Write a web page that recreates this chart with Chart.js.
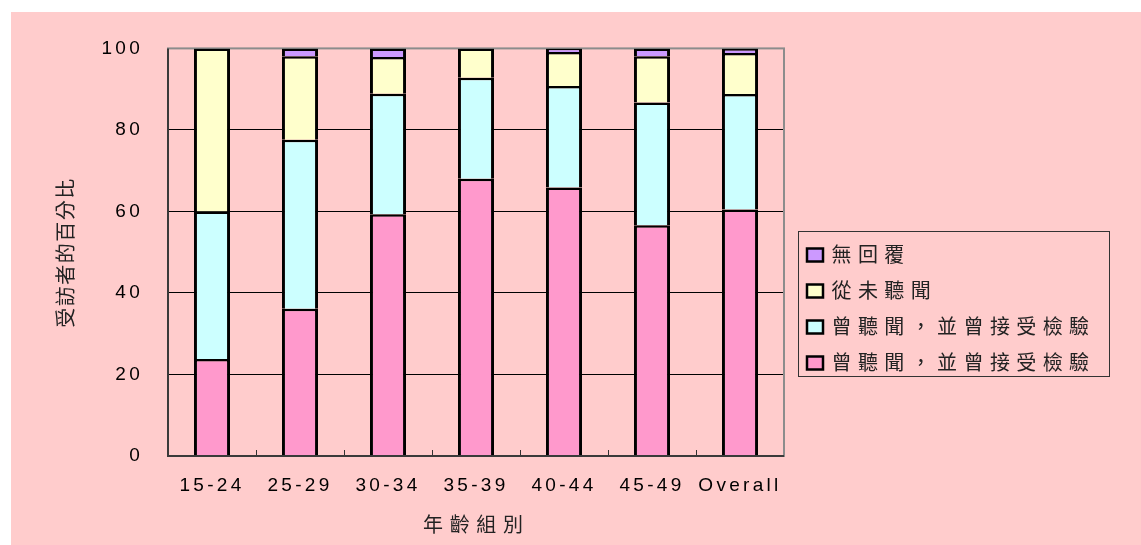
<!DOCTYPE html>
<html>
<head>
<meta charset="utf-8">
<script src="https://cdn.jsdelivr.net/npm/chart.js@4"></script>
<style>
  html, body { margin: 0; background: #fff; }
  #wrap { position: absolute; left: 11px; top: 12px; width: 1130px; height: 533px; background: #FFCCCC; }
  canvas { display: block; }
</style>
</head>
<body>
<div id="wrap"><canvas id="ageChart" width="1130" height="533"></canvas></div>
<script>
// age groups and stacked percentages
const ageGroups = ['15-24', '25-29', '30-34', '35-39', '40-44', '45-49', 'Overall'];
const heardTested = [23.8, 36.1, 59.3, 68.0, 65.9, 56.6, 60.5];
const heardNotTested = [36.2, 41.5, 29.6, 24.8, 24.9, 30.1, 28.3];
const neverHeard = [40.0, 20.5, 9.0, 7.2, 8.3, 11.4, 10.1];
const noResponse = [0, 1.9, 2.1, 0, 0.9, 1.9, 1.1];

const seriesLabels = ['曾聽聞，並曾接受檢驗', '曾聽聞，並曾接受檢驗', '從未聽聞', '無回覆'];
const seriesColors = ['#FF99CC', '#CCFFFF', '#FFFFCC', '#CC99FF'];
const xTitle = '年齡組別';
const yTitle = '受訪者的百分比';

const latinFont = '"Liberation Sans", Arial, sans-serif';
const cjkFont = '"Noto Sans CJK TC", "Noto Sans CJK SC", sans-serif';

// draw text with letter spacing, trailing gap removed
function spacedText(c, text, x, y, spacing, align) {
    c.letterSpacing = spacing + 'px';
    const w = c.measureText(text).width - spacing;
    c.textAlign = 'left';
    c.fillText(text, align === 'center' ? x - w / 2 : x, y);
}

const excelLook = {
    id: 'excelLook',
    beforeDraw(chart) {
        chart.ctx.letterSpacing = '3.3px';   // tick labels
    },
    beforeDatasetsDraw(chart) {
        const c = chart.ctx, a = chart.chartArea;
        c.save();
        c.letterSpacing = '0px';
        c.strokeStyle = '#8c8c8c';
        c.lineWidth = 2;
        c.strokeRect(a.left, a.top, a.right - a.left, a.bottom - a.top);
        // small inward ticks between categories
        const xs = chart.scales.x;
        c.strokeStyle = '#333';
        c.lineWidth = 1;
        for (let i = 1; i < ageGroups.length; i++) {
            const px = Math.round(xs.getPixelForValue(i - 0.5)) + 0.5;
            c.beginPath();
            c.moveTo(px, a.bottom);
            c.lineTo(px, a.bottom - 6);
            c.stroke();
        }
        c.restore();
    },
    afterDatasetsDraw(chart) {
        const c = chart.ctx, a = chart.chartArea;
        c.save();
        c.strokeStyle = '#3a3a3a';
        c.lineWidth = 2;
        c.beginPath();
        c.moveTo(a.left, a.top);
        c.lineTo(a.left, a.bottom);
        c.lineTo(a.right, a.bottom);
        c.stroke();
        c.restore();
    },
    afterDraw(chart) {
        const c = chart.ctx, a = chart.chartArea;
        c.save();
        c.fillStyle = '#222';
        c.textBaseline = 'middle';

        // axis titles
        c.font = '20px ' + cjkFont;
        spacedText(c, xTitle, (a.left + a.right) / 2 - 3, 512, 6.7, 'center');
        c.save();
        c.translate(54, (a.top + a.bottom) / 2 + 1);
        c.rotate(-Math.PI / 2);
        spacedText(c, yTitle, 0, 0, 1.5, 'center');
        c.restore();

        // legend box
        c.strokeStyle = '#333';
        c.lineWidth = 1;
        c.strokeRect(787.5, 219.5, 311, 145);
        c.font = '20px ' + cjkFont;
        for (let i = 0; i < seriesLabels.length; i++) {
            const k = seriesLabels.length - 1 - i;
            const cy = 242.5 + i * 36;
            c.fillStyle = seriesColors[k];
            c.fillRect(796, cy - 6, 16, 13);
            c.strokeStyle = '#000';
            c.lineWidth = 2.5;
            c.strokeRect(796, cy - 6, 16, 13);
            c.fillStyle = '#222';
            spacedText(c, seriesLabels[k], 820.5, cy, 6.4, 'left');
        }
        c.restore();
    }
};

const seriesData = [heardTested, heardNotTested, neverHeard, noResponse];

new Chart(document.getElementById('ageChart'), {
    type: 'bar',
    data: {
        labels: ageGroups,
        datasets: seriesData.map((vals, i) => ({
            label: seriesLabels[i],
            data: vals,
            backgroundColor: seriesColors[i],
            borderColor: '#000',
            borderWidth: { top: 2.5, left: 3, right: 3, bottom: 0 },
            borderSkipped: 'start',
            barPercentage: 0.41,
            categoryPercentage: 1
        }))
    },
    options: {
        responsive: false,
        animation: false,
        layout: { padding: { top: 34, right: 357, left: 0, bottom: 0 } },
        scales: {
            x: {
                stacked: true,
                grid: { display: false, drawTicks: false },
                border: { display: false },
                ticks: { color: '#000', padding: 18, font: { family: latinFont, size: 19 } },
                afterFit(scale) { scale.height = 89; }
            },
            y: {
                stacked: true,
                min: 0,
                max: 100,
                grid: { color: '#000', lineWidth: 1, drawTicks: false },
                border: { display: false },
                ticks: { stepSize: 20, color: '#000', padding: 25, font: { family: latinFont, size: 19 } },
                afterFit(scale) { scale.width = 157; }
            }
        },
        plugins: {
            legend: { display: false },
            tooltip: { enabled: false }
        }
    },
    plugins: [excelLook]
});
</script>
</body>
</html>
